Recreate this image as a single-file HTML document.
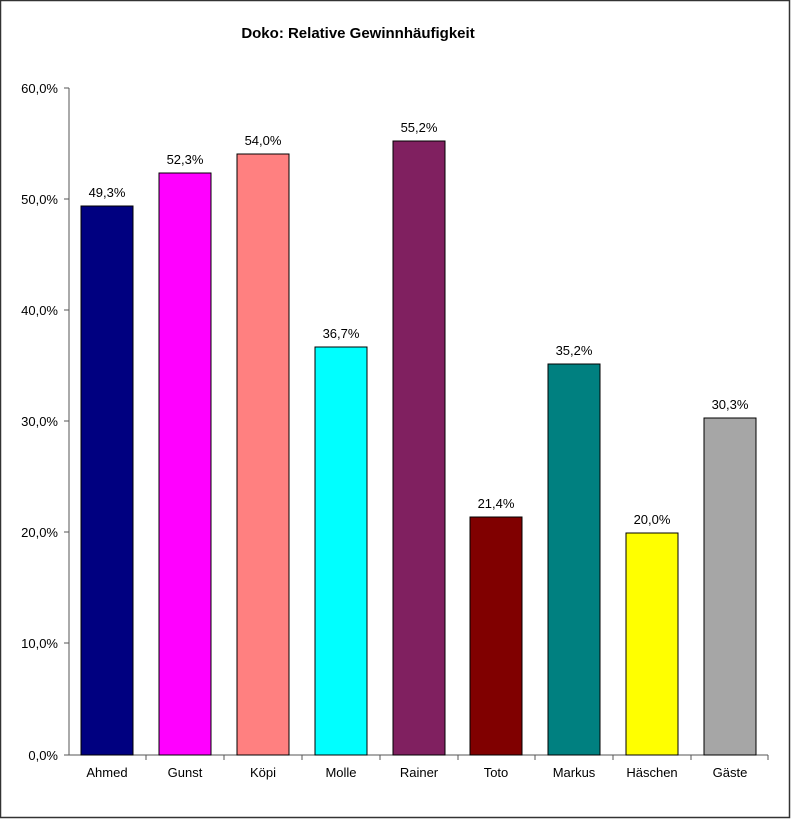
<!DOCTYPE html>
<html><head><meta charset="utf-8"><style>
body{margin:0;background:#fff}
svg{display:block}
text{font-family:"Liberation Sans",Arial,sans-serif;fill:#000}
</style></head><body>
<svg width="791" height="819" viewBox="0 0 791 819" xmlns="http://www.w3.org/2000/svg">
<rect x="0.5" y="0.5" width="789" height="817" fill="#fff" stroke="#333" stroke-width="1.5"/>
<text x="358" y="38" font-size="15" font-weight="bold" text-anchor="middle">Doko: Relative Gewinnhäufigkeit</text>
<g stroke="#555" stroke-width="1">
<line x1="69" y1="88" x2="69" y2="755"/>
<line x1="69" y1="755" x2="768" y2="755"/>
<line x1="64" y1="88" x2="69" y2="88"/>
<line x1="64" y1="199" x2="69" y2="199"/>
<line x1="64" y1="310" x2="69" y2="310"/>
<line x1="64" y1="421" x2="69" y2="421"/>
<line x1="64" y1="532" x2="69" y2="532"/>
<line x1="64" y1="643" x2="69" y2="643"/>
<line x1="64" y1="755" x2="69" y2="755"/>
<line x1="146" y1="755" x2="146" y2="760"/>
<line x1="224" y1="755" x2="224" y2="760"/>
<line x1="302" y1="755" x2="302" y2="760"/>
<line x1="380" y1="755" x2="380" y2="760"/>
<line x1="458" y1="755" x2="458" y2="760"/>
<line x1="535" y1="755" x2="535" y2="760"/>
<line x1="613" y1="755" x2="613" y2="760"/>
<line x1="691" y1="755" x2="691" y2="760"/>
<line x1="768" y1="755" x2="768" y2="760"/>
</g>
<g font-size="13" text-anchor="end">
<text x="58" y="93">60,0%</text>
<text x="58" y="204">50,0%</text>
<text x="58" y="315">40,0%</text>
<text x="58" y="426">30,0%</text>
<text x="58" y="537">20,0%</text>
<text x="58" y="648">10,0%</text>
<text x="58" y="760">0,0%</text>
</g>
<g stroke="#000" stroke-width="1">
<rect x="81" y="206" width="52" height="549" fill="#000080"/>
<rect x="159" y="173" width="52" height="582" fill="#ff00ff"/>
<rect x="237" y="154" width="52" height="601" fill="#ff8080"/>
<rect x="315" y="347" width="52" height="408" fill="#00ffff"/>
<rect x="393" y="141" width="52" height="614" fill="#802060"/>
<rect x="470" y="517" width="52" height="238" fill="#800000"/>
<rect x="548" y="364" width="52" height="391" fill="#008080"/>
<rect x="626" y="533" width="52" height="222" fill="#ffff00"/>
<rect x="704" y="418" width="52" height="337" fill="#a6a6a6"/>
</g>
<g font-size="13" text-anchor="middle">
<text x="107" y="197">49,3%</text>
<text x="185" y="164">52,3%</text>
<text x="263" y="145">54,0%</text>
<text x="341" y="338">36,7%</text>
<text x="419" y="132">55,2%</text>
<text x="496" y="508">21,4%</text>
<text x="574" y="355">35,2%</text>
<text x="652" y="524">20,0%</text>
<text x="730" y="409">30,3%</text>
</g>
<g font-size="13" text-anchor="middle">
<text x="107" y="777">Ahmed</text>
<text x="185" y="777">Gunst</text>
<text x="263" y="777">Köpi</text>
<text x="341" y="777">Molle</text>
<text x="419" y="777">Rainer</text>
<text x="496" y="777">Toto</text>
<text x="574" y="777">Markus</text>
<text x="652" y="777">Häschen</text>
<text x="730" y="777">Gäste</text>
</g>
</svg>
</body></html>
